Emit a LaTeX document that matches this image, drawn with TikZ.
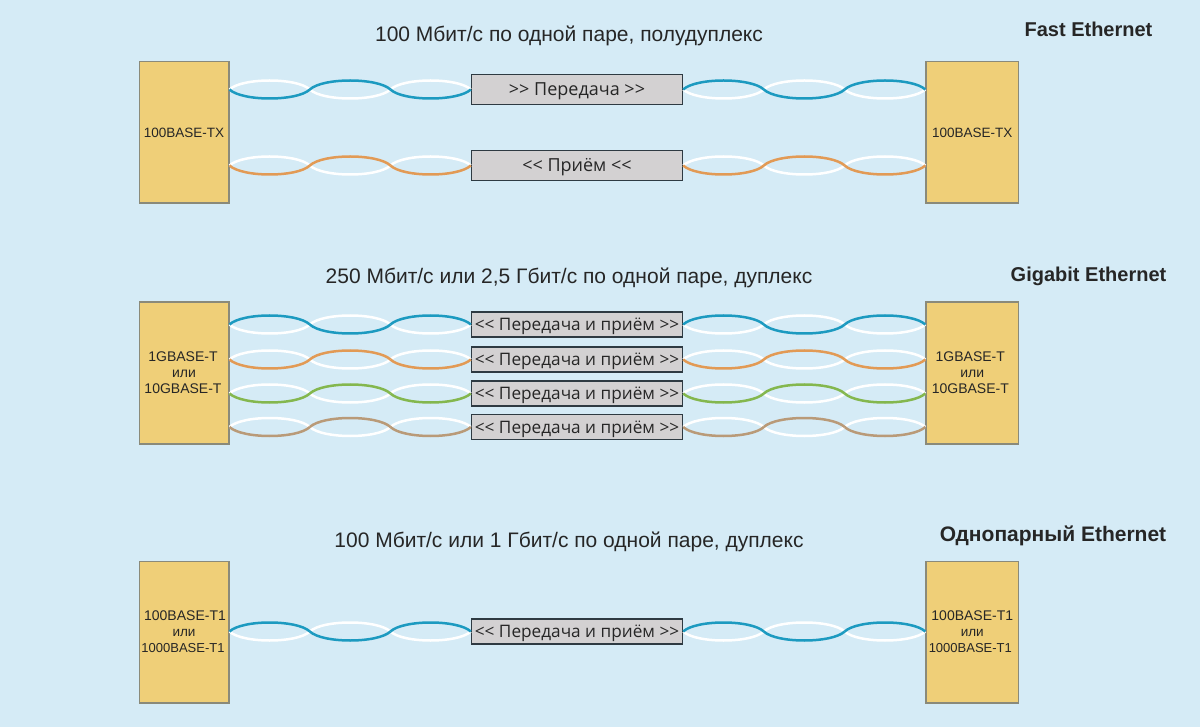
\documentclass[tikz,border=0pt]{standalone}
\usepackage{fontspec}
\setmainfont{Liberation Sans}
\newfontfamily\lblfont{Open Sans}
\usetikzlibrary{calc}
\definecolor{bgc}{HTML}{D5EBF6}
\definecolor{boxc}{HTML}{EFCF78}
\definecolor{boxl}{HTML}{8A8A7A}
\definecolor{lblc}{HTML}{D3D1D2}
\definecolor{lbll}{HTML}{2E3A42}
\definecolor{tealc}{HTML}{1C9AC0}
\definecolor{orc}{HTML}{E29A55}
\definecolor{grc}{HTML}{84B74E}
\definecolor{brc}{HTML}{B99A78}
\newcommand{\unitbig}{\fontsize{14}{16}\selectfont}
\newcommand{\unitsmall}{\fontsize{13}{16}\selectfont}
\tikzset{
 unit/.style={draw=boxl,line width=1.5pt,fill=boxc,minimum height=141.5pt,inner sep=0pt,align=center,font=\fontsize{13.5}{16}\selectfont,text=black!85},
 lunit/.style={unit,minimum width=89.5pt},
 runit/.style={unit,minimum width=92.5pt},
 lbl/.style={draw=lbll,line width=1.4pt,fill=lblc,minimum width=211pt,inner sep=0pt,text height=16pt,text depth=4pt,text=black!85},
 lowlbl/.style={lbl,minimum height=30pt,font=\lblfont\fontsize{18}{20}\selectfont},
 duplbl/.style={lbl,minimum height=25pt,font=\lblfont\fontsize{17.2}{20}\selectfont},
 head/.style={font=\fontsize{21}{25}\selectfont,text=black!85},
 title/.style={font=\bfseries\fontsize{20}{24}\selectfont,text=black!85},
 wire/.style={line width=2.5pt}
}
% one strand of a lobe: from #1 to #2, colour #3, bulge #4 (positive is downward)
\newcommand{\strand}[4]{%
 \draw[wire,#3] #1 .. controls ($#1!0.16!#2+(0,#4)$) and ($#1!0.84!#2+(0,#4)$) .. #2;}
% twisted pair between two anchors: white strand first, then the coloured one over it.
% #3 colour, #4 = 1 when the coloured strand starts below, -1 when it starts above
\newcommand{\twist}[4]{%
 \coordinate (t1) at ($#1!0.333!#2$);
 \coordinate (t2) at ($#1!0.667!#2$);
 \strand{#1}{(t1)}{white}{-12*#4}
 \strand{(t1)}{(t2)}{white}{12*#4}
 \strand{(t2)}{#2}{white}{-12*#4}
 \strand{#1}{(t1)}{#3}{12*#4}
 \strand{(t1)}{(t2)}{#3}{-12*#4}
 \strand{(t2)}{#2}{#3}{12*#4}}
\begin{document}
\begin{tikzpicture}[x=1pt,y=-1pt]
\useasboundingbox (0,0) rectangle (1200,727);
\fill[bgc] (0,0) rectangle (1200,727);

\node[head] (h1) at (569,36) {100 Мбит/с по одной паре, полудуплекс};
\node[head] (h2) at (569,278) {250 Мбит/с или 2,5 Гбит/с по одной паре, дуплекс};
\node[head] (h3) at (569,542) {100 Мбит/с или 1 Гбит/с по одной паре, дуплекс};
\node[title] (t1n) at (1088.5,29) {Fast Ethernet};
\node[title] (t2n) at (1088.5,276) {Gigabit Ethernet};
\node[title,font=\bfseries\fontsize{21}{24}\selectfont] (t3n) at (1053,536) {Однопарный Ethernet};

\node[lunit] (A1) at (184,132.5) {100BASE-TX};
\node[runit] (B1) at (972.3,132.5) {100BASE-TX};
\node[lunit,font=\unitbig] (A2) at (184,373) {1GBASE-T\hspace*{2pt}\\или\hspace*{2pt}\\10GBASE-T\hspace*{2pt}};
\node[runit,font=\unitbig] (B2) at (972.3,373) {1GBASE-T\hspace*{4pt}\\или\hspace*{4pt}\\10GBASE-T\hspace*{4pt}};
\node[lunit] (A3) at (184,632) {\unitbig\hspace*{2pt}100BASE-T1\\или\\\unitsmall 1000BASE-T1\hspace*{2pt}};
\node[runit] (B3) at (972.3,632) {\unitbig 100BASE-T1\\или\hspace*{4pt}\\\unitsmall 1000BASE-T1\hspace*{4pt}};

\node[lowlbl] (L1) at (577,89.5) {>{}> Передача >{}>};
\node[lowlbl] (L2) at (577,165.5) {<{}< Приём <{}<};
\node[duplbl] (L3) at (577,324.5) {<{}< Передача и приём >{}>};
\node[duplbl] (L4) at (577,359.5) {<{}< Передача и приём >{}>};
\node[duplbl] (L5) at (577,393.5) {<{}< Передача и приём >{}>};
\node[duplbl] (L6) at (577,427) {<{}< Передача и приём >{}>};
\node[duplbl] (L7) at (577,631.5) {<{}< Передача и приём >{}>};

\twist{(A1.east|-L1)}{(L1.west)}{tealc}{1}
\twist{(L1.east)}{(B1.west|-L1)}{tealc}{-1}
\twist{(A1.east|-L2)}{(L2.west)}{orc}{1}
\twist{(L2.east)}{(B1.west|-L2)}{orc}{1}
\twist{(A2.east|-L3)}{(L3.west)}{tealc}{-1}
\twist{(L3.east)}{(B2.west|-L3)}{tealc}{-1}
\twist{(A2.east|-L4)}{(L4.west)}{orc}{1}
\twist{(L4.east)}{(B2.west|-L4)}{orc}{1}
\twist{(A2.east|-L5)}{(L5.west)}{grc}{1}
\twist{(L5.east)}{(B2.west|-L5)}{grc}{1}
\twist{(A2.east|-L6)}{(L6.west)}{brc}{1}
\twist{(L6.east)}{(B2.west|-L6)}{brc}{1}
\twist{(A3.east|-L7)}{(L7.west)}{tealc}{-1}
\twist{(L7.east)}{(B3.west|-L7)}{tealc}{-1}
\end{tikzpicture}
\end{document}
